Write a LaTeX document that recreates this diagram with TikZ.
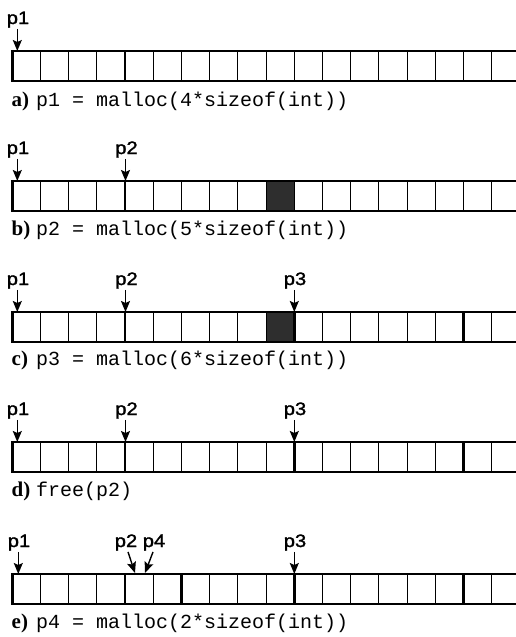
\documentclass[tikz,border=0pt]{standalone}
\usepackage{fontspec}
\setmainfont{Liberation Serif}
\newfontfamily\labfont[FakeBold=1.5,FakeStretch=1.12]{Liberation Sans}
\newfontfamily\codefont{Liberation Mono}
\usetikzlibrary{arrows.meta}
\def\xo{12.3}
\def\cw{28.2}
\newcommand\mybar[2]{%
  \draw[cellline] \foreach \i in {1,...,18} {({\xo+\i*\cw},#1) -- ++(0,30)};
  \draw[blockline] \foreach \i in {#2} {({\xo+\i*\cw},#1) -- ++(0,30)};
  \draw[frameline] (540,#1) -- (\xo,#1) -- (\xo,#1+30) -- (540,#1+30);
}
\tikzset{
  cellline/.style={line width=1.1pt},
  blockline/.style={line width=2.6pt},
  frameline/.style={line width=2.4pt, line join=miter},
  shadecell/.style={fill=black!82},
  plab/.style={font=\labfont\fontsize{18}{18}\selectfont, inner sep=1pt, anchor=base},
  ptr/.style={line width=1.4pt, -{Stealth[length=11pt,width=9pt,inset=2pt]}},
  capletter/.style={font=\bfseries\fontsize{21}{21}\selectfont, inner sep=0pt, anchor=base west},
  capcode/.style={font=\codefont\fontsize{20}{20}\selectfont, inner sep=0pt, anchor=base west}
}
\begin{document}
\begin{tikzpicture}[x=1pt,y=-1pt]
\useasboundingbox (0,0) rectangle (516,637);
\clip (0,0) rectangle (516,637);
\fill[white] (0,0) rectangle (516,637);

% ---------- a ----------
\mybar{51}{4}
\node[plab] (a1) at (18,24) {p1};
\coordinate (a1t) at (17.3,51);
\draw[ptr] (a1.south -| a1t) -- (a1t);
\node[capletter] (ca) at (11.5,106) {a)};
\node[capcode] (cca) at (36,106) {p1 = malloc(4*sizeof(int))};

% ---------- b ----------
\fill[shadecell] ({\xo+9*\cw},181) rectangle ++(\cw,30);
\mybar{181}{4}
\node[plab] (b1) at (18,154) {p1};
\coordinate (b1t) at (17.3,181);
\draw[ptr] (b1.south -| b1t) -- (b1t);
\node[plab] (b2) at (126.5,154) {p2};
\coordinate (b2t) at (125.5,181);
\draw[ptr] (b2.south -| b2t) -- (b2t);
\node[capletter] (cb) at (11.5,235) {b)};
\node[capcode] (ccb) at (36,235) {p2 = malloc(5*sizeof(int))};

% ---------- c ----------
\fill[shadecell] ({\xo+9*\cw},312) rectangle ++(\cw,30);
\mybar{312}{4,10,16}
\node[plab] (c1) at (18,285) {p1};
\coordinate (c1t) at (17.3,312);
\draw[ptr] (c1.south -| c1t) -- (c1t);
\node[plab] (c2) at (126.5,285) {p2};
\coordinate (c2t) at (125.5,312);
\draw[ptr] (c2.south -| c2t) -- (c2t);
\node[plab] (c3) at (295,285) {p3};
\coordinate (c3t) at (294.3,312);
\draw[ptr] (c3.south -| c3t) -- (c3t);
\node[capletter] (cc) at (11.5,365) {c)};
\node[capcode] (ccc) at (36,365) {p3 = malloc(6*sizeof(int))};

% ---------- d ----------
\mybar{442}{4,10,16}
\node[plab] (d1) at (18,415) {p1};
\coordinate (d1t) at (17.3,442);
\draw[ptr] (d1.south -| d1t) -- (d1t);
\node[plab] (d2) at (126.5,415) {p2};
\coordinate (d2t) at (125.5,442);
\draw[ptr] (d2.south -| d2t) -- (d2t);
\node[plab] (d3) at (295,415) {p3};
\coordinate (d3t) at (294.3,442);
\draw[ptr] (d3.south -| d3t) -- (d3t);
\node[capletter] (cd) at (11.5,496) {d)};
\node[capcode] (ccd) at (36,496) {free(p2)};

% ---------- e ----------
\mybar{574}{4,6,10,16}
\node[plab] (e1) at (19,547) {p1};
\coordinate (e1t) at (18.3,574);
\draw[ptr] (e1.south -| e1t) -- (e1t);
\node[plab] (e2) at (126,547) {p2};
\coordinate (e2t) at (135,573);
\draw[ptr] ([xshift=2pt]e2.south) -- (e2t);
\node[plab] (e4) at (154,547) {p4};
\coordinate (e4t) at (145,573);
\draw[ptr] ([xshift=-1pt]e4.south) -- (e4t);
\node[plab] (e3) at (295,547) {p3};
\coordinate (e3t) at (294.3,574);
\draw[ptr] (e3.south -| e3t) -- (e3t);
\node[capletter] (ce) at (11.5,628) {e)};
\node[capcode] (cce) at (36,628) {p4 = malloc(2*sizeof(int))};
\end{tikzpicture}
\end{document}
